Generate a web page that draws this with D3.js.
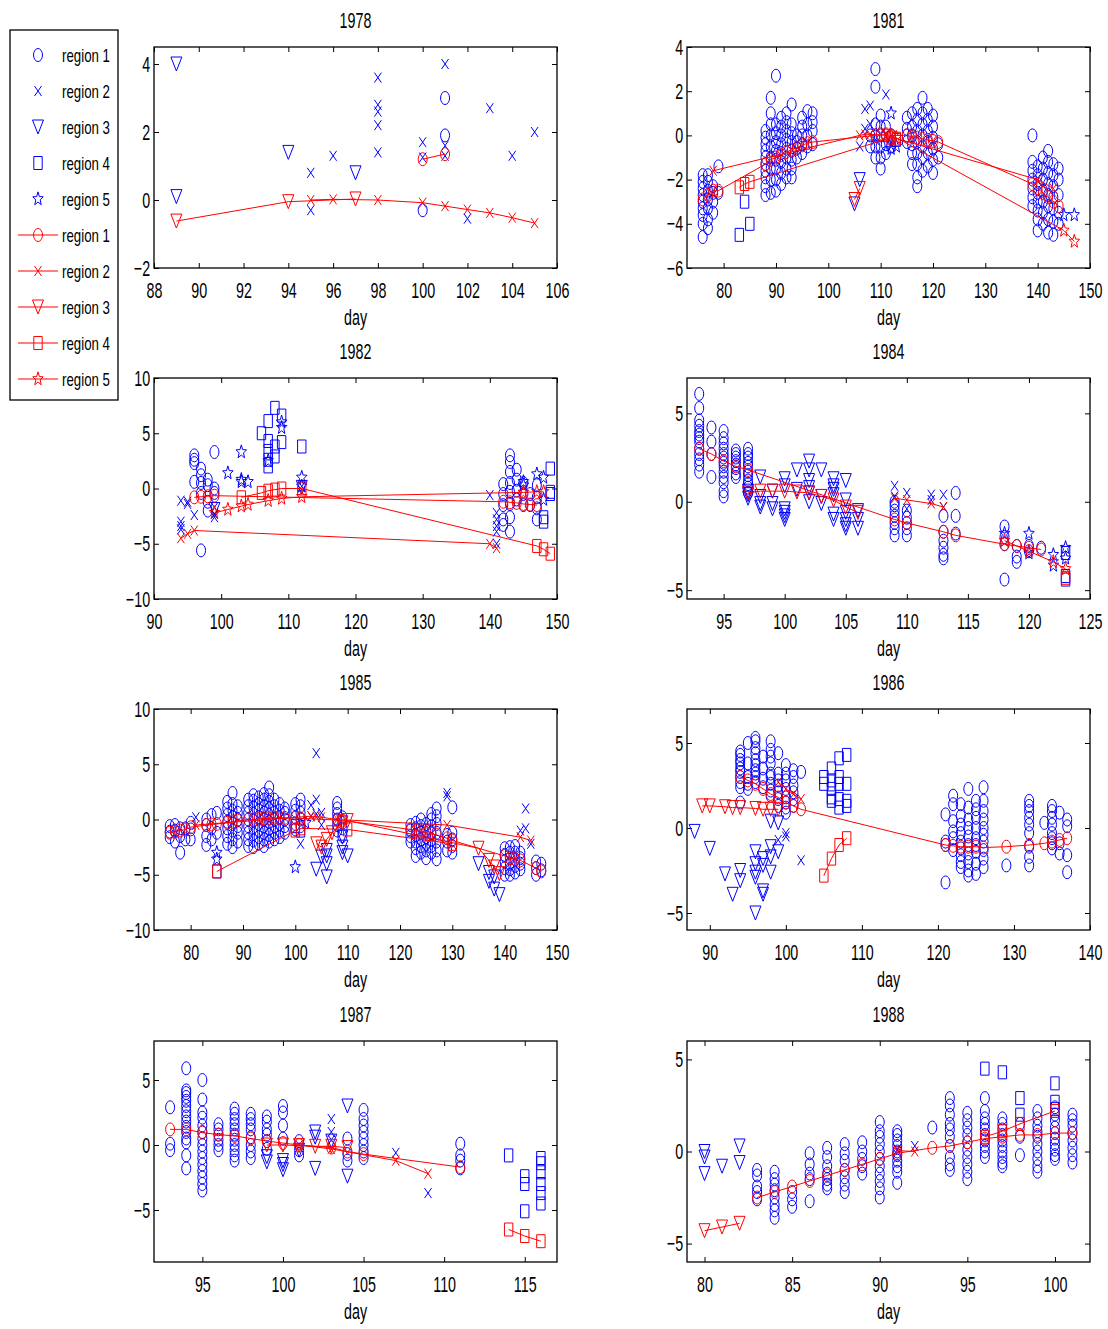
<!DOCTYPE html>
<html lang="en">
<head>
<meta charset="UTF-8">
<title>Regions by day</title>
<style>
  body { margin: 0; background: #fff; }
  svg text { font-family: "Liberation Sans", Arial, sans-serif; fill: #000; }
</style>
</head>
<body>
<svg id="chart" width="1108" height="1329"></svg>
<script src="https://cdn.jsdelivr.net/npm/d3@7"></script>
<script>
// ---- data ----
const years = ["1978", "1981", "1982", "1984", "1985", "1986", "1987", "1988"];
const regions = ["region 1", "region 2", "region 3", "region 4", "region 5"];
const xDomains = [[88, 106], [73, 150], [90, 150], [92, 125], [73, 150], [87, 140], [92, 117], [79, 102]];
const yDomains = [[-2, 4.5], [-6, 4], [-10, 10], [-5.5, 7], [-10, 10], [-6, 7], [-9, 8], [-6, 6]];
const xTicks = [
  [88, 90, 92, 94, 96, 98, 100, 102, 104, 106],
  [80, 90, 100, 110, 120, 130, 140, 150],
  [90, 100, 110, 120, 130, 140, 150],
  [95, 100, 105, 110, 115, 120, 125],
  [80, 90, 100, 110, 120, 130, 140, 150],
  [90, 100, 110, 120, 130, 140],
  [95, 100, 105, 110, 115],
  [80, 85, 90, 95, 100]
];
const yTicks = [[-2, 0, 2, 4], [-6, -4, -2, 0, 2, 4], [-10, -5, 0, 5, 10], [-5, 0, 5],
  [-10, -5, 0, 5, 10], [-5, 0, 5], [-5, 0, 5], [-5, 0, 5]];

// observations: one list per region, each entry [day, value, value, ...]
const obs1978 = [
  [[100, -0.3], [101, 3.0, 1.9]],
  [[95, 0.8, -0.3], [96, 1.3], [98, 3.6, 2.8, 2.6, 2.2, 1.4], [100, 1.7, 1.25], [101, 4.0, 1.6, 1.3], [102, -0.55], [103, 2.7], [104, 1.3], [105, 2.0]],
  [[89, 4.0, 0.1], [94, 1.4], [97, 0.8]],
  [], []
];
const obs1981 = [
  [[76, -4.6, -4.0, -3.6, -3.3, -3.0, -2.7, -2.4, -2.1, -1.8], [77, -4.2, -3.8, -3.3, -2.9, -2.5, -2.1, -1.8], [78, -3.5, -3.0, -2.6, -2.3], [79, -2.6, -1.4],
   [88, -2.7, -2.3, -1.9, -1.6, -1.3, -1.0, -0.7, -0.4, -0.1, 0.2], [89, -2.6, -2.0, -1.5, -1.0, -0.5, 0.0, 0.5, 1.0, 1.7],
   [90, -2.5, -2.0, -1.5, -1.1, -0.7, -0.3, 0.1, 0.5, 2.7], [91, -2.2, -1.7, -1.2, -0.8, -0.4, 0.0, 0.4, 0.8],
   [92, -1.9, -1.5, -1.0, -0.6, -0.2, 0.2, 0.6, 1.0], [93, -1.9, -1.5, -1.1, -0.7, -0.3, 0.1, 0.5, 1.4],
   [94, -1.0, -0.6, -0.3, 0.0], [95, -0.8, -0.4, 0.0, 0.4, 0.8], [96, -0.5, 0.0, 0.5, 1.1], [97, -0.4, 0.2, 0.6, 1.0],
   [108, -0.5, 0.0], [109, -1.0, -0.5, 0.0, 0.5, 2.2, 3.0], [110, -1.5, -1.0, -0.5, 0.0, 0.4, 0.9], [111, -0.8, -0.4, 0.0, 0.4], [112, -0.5, 0.0],
   [115, -0.3, 0.0, 0.3, 0.8], [116, -1.3, -0.8, -0.4, 0.0, 0.4, 1.0], [117, -2.3, -1.9, -1.3, -0.8, -0.3, 0.2, 0.7, 1.2],
   [118, -1.6, -1.0, -0.5, 0.0, 0.5, 1.0, 1.7], [119, -1.4, -0.8, -0.3, 0.2, 0.7, 1.2], [120, -1.7, -1.1, -0.6, -0.1, 0.4, 0.9], [121, -1.0, -0.4],
   [139, -3.2, -2.8, -2.4, -2.0, -1.6, -1.2, 0.0], [140, -4.3, -3.8, -3.4, -3.0, -2.6, -2.2, -1.8, -1.4],
   [141, -4.0, -3.5, -3.0, -2.5, -2.0, -1.5, -1.0], [142, -4.4, -3.8, -3.2, -2.7, -2.2, -1.7, -1.2, -0.7],
   [143, -4.5, -3.9, -3.3, -2.8, -2.3, -1.8, -1.3], [144, -4.0, -3.5, -2.7, -2.0, -1.5]],
  [[106, -0.5], [107, 1.2, 0.3], [108, 1.35, 0.5], [109, -0.2], [111, 1.85], [112, -0.5]],
  [[105, -3.1], [106, -2.0]],
  [[83, -4.5], [84, -3.0], [85, -4.0], [113, -0.2]],
  [[112, 1.0, -0.6], [113, -0.5], [145, -3.6], [147, -3.6]]
];
const obs1982 = [
  [[96, 3.0, 2.6, 2.3, 0.6], [97, 1.8, 1.2, 0.5, -0.4, -5.6], [98, 0.8, 0.3, -1.2, -2.0], [99, 3.3, 0.0, -0.4],
   [142, 0.4, -0.5, -1.5, -2.8, -3.3], [143, 3.0, 2.4, 1.5, 0.5, -0.3, -1.4, -2.6, -3.9], [144, 1.7, 0.8, -0.2, -1.0],
   [145, 0.5, -0.5, -1.5], [146, -0.5, -1.5], [147, 0.3, -0.8, -1.8, -2.8]],
  [[94, -1.1, -3.0, -3.4, -3.7], [95, -1.2, -1.4], [96, -2.4], [99, -1.7, -2.3, -2.6], [112, 0.2], [140, -0.6], [141, -2.2, -2.8, -3.4, -3.9, -5.0]],
  [[99, -1.9], [112, 0.1]],
  [[106, 5.0], [107, 6.1, 4.3, 3.4, 2.6, 2.0], [108, 7.3, 3.8, 2.9], [109, 6.6, 4.2], [112, 3.8], [148, -2.6, -3.0], [149, 1.8, -0.3, -0.5]],
  [[101, 1.4], [103, 3.3, 0.8, 0.6], [104, 0.6], [107, 2.5], [109, 6.0, 5.5], [112, 1.0, 0.2], [145, 0.6, 0.3], [147, 1.3], [148, 1.0, -1.0]]
];
const obs1984 = [
  [[93, 6.1, 5.3, 4.6, 4.3, 4.0, 3.8, 3.6, 3.4, 3.0, 2.7, 2.4, 2.1, 1.7], [94, 4.2, 3.4, 2.7, 1.4],
   [95, 4.0, 3.6, 3.3, 3.0, 2.7, 2.5, 2.2, 2.0, 1.7, 1.4, 1.1, 0.6, 0.3], [96, 2.9, 2.7, 2.5, 2.3, 2.1, 1.9, 1.6, 1.4],
   [97, 3.0, 2.7, 2.5, 2.2, 2.0, 1.7, 1.5, 1.2, 1.0, 0.8, 0.5], [109, 0.0, -0.2, -0.5, -0.8, -1.2, -1.5, -1.9],
   [110, -0.5, -0.9, -1.2, -1.5, -1.9], [113, -0.8, -1.7, -2.2, -2.6, -3.0, -3.2], [114, 0.5, -0.8, -1.8],
   [118, -1.4, -2.0, -2.4, -4.4], [119, -2.5, -3.1, -3.4], [120, -2.5, -2.8], [121, -2.6]],
  [[109, 0.9, 0.3], [110, 0.5, -0.4], [112, 0.4, 0.1], [113, 0.4, -0.3]],
  [[97, 0.6, 0.4, 0.2], [98, 1.4, 0.3, -0.1, -0.3], [99, 0.6, -0.1, -0.4], [100, 1.3, 0.9, -0.4, -0.6, -0.8, -1.0], [101, 1.8, 0.7],
   [102, 2.3, 1.8, 1.2, 0.8, 0.5, 0.0], [103, 1.8, 0.3, -0.1], [104, 1.3, 0.9, 0.7, 0.4, -0.7, -1.0], [105, 1.2, 0.1, -0.6, -1.0, -1.3, -1.5], [106, -0.5, -1.0, -1.5]],
  [[123, -2.9, -4.2, -4.4]],
  [[118, -1.8], [120, -1.8, -2.9], [122, -3.0, -3.6], [123, -2.6, -3.2]]
];
const obs1985 = [
  [[76, -1.6, -1.1, -0.6], [77, -2.0, -1.0, -0.5], [78, -3.0, -1.5, -0.8], [79, -1.8, -0.8], [80, -1.8, -0.9, -0.3],
   [83, -2.3, -1.5, -0.5, 0.0], [84, -1.8, -0.8, 0.4], [85, -1.2, 0.6],
   [87, -2.2, -1.5, -0.8, -0.2, 0.4, 1.0, 1.6], [88, -2.5, -1.8, -1.0, -0.4, 0.2, 0.8, 1.4, 2.4], [89, -2.0, -1.2, -0.6, 0.0, 0.6, 1.2],
   [91, -2.4, -1.8, -1.2, -0.6, 0.0, 0.6, 1.2, 1.8], [92, -2.5, -1.9, -1.3, -0.7, -0.1, 0.5, 1.1, 1.7, 2.2],
   [93, -2.2, -1.6, -1.0, -0.4, 0.2, 0.8, 1.4, 2.0], [94, -2.4, -1.8, -1.2, -0.6, 0.0, 0.6, 1.2, 1.8, 2.3],
   [95, -2.0, -1.4, -0.8, -0.2, 0.4, 1.0, 1.6, 2.2, 2.9], [96, -1.8, -1.2, -0.6, 0.0, 0.6, 1.2, 1.8],
   [97, -1.6, -1.0, -0.4, 0.2, 0.8, 1.4], [98, -1.2, -0.6, 0.0, 0.6, 1.0],
   [100, -0.9, -0.4, 0.2, 0.8, 1.4], [101, -0.6, 0.0, 0.6, 1.2, 1.8], [108, -1.0, -0.5, 0.0, 0.5, 1.0, 1.5], [109, -1.5, -0.8, -0.3, 0.2],
   [122, -2.0, -1.5, -1.0, -0.5], [123, -3.3, -2.6, -2.0, -1.4, -0.8, -0.3], [124, -3.0, -2.4, -1.8, -1.2, -0.6, 0.0],
   [125, -3.5, -2.8, -2.2, -1.6, -1.0, -0.4], [126, -3.0, -2.4, -1.8, -1.2, -0.6, 0.0, 0.5], [127, -3.6, -2.8, -2.0, -1.2, -0.4, 0.3, 1.0],
   [129, -2.8, -2.0, -1.4], [130, -3.0, -2.4, -1.8, -1.2, 1.1],
   [140, -5.0, -4.4, -3.8, -3.2, -2.6], [141, -5.0, -4.5, -4.0, -3.5, -3.0, -2.5], [142, -4.8, -4.2, -3.6, -3.0, -2.4], [143, -4.5, -4.0, -3.5, -3.0],
   [146, -5.0, -4.4, -3.8], [147, -4.6, -4.0]],
  [[81, 0.2], [101, -2.2], [103, 1.3, 0.3], [104, 6.0, 1.8, 0.5], [105, 0.6, -0.5], [129, 2.4, 2.1], [143, -1.0], [144, 1.0, -0.8], [145, -2.2]],
  [[104, -4.5], [105, -3.4], [106, -5.2, -4.0, -3.3, -2.8], [109, -1.6, -2.5, -3.0], [110, -3.3], [135, -4.0], [137, -4.8, -5.6], [138, -6.3, -5.2], [139, -6.8]],
  [[85, -4.7], [100, -0.6], [101, -1.0]],
  [[85, -3.0, -3.6], [100, -4.3], [102, -0.3]]
];
const obs1986 = [
  [[94, 4.5, 4.3, 4.0, 3.8, 3.5, 3.3, 3.0, 2.7, 2.4, 1.5], [95, 5.0, 3.8, 3.0, 2.6, 2.3],
   [96, 5.3, 5.1, 4.7, 4.4, 4.0, 3.7, 3.4, 3.2, 3.0, 2.7], [97, 4.2, 3.5, 2.9, 2.4],
   [98, 5.1, 4.6, 4.2, 3.8, 3.2, 3.0, 2.6, 2.2, 1.9], [99, 4.4, 3.2, 2.8, 2.5, 2.1, 1.7, 1.3],
   [100, 3.7, 3.2, 2.8, 2.3, 1.8, 1.5, 1.2, 0.9], [101, 3.4, 3.0, 2.5, 2.1, 1.7, 1.3], [102, 3.3],
   [121, 0.8, -0.8, -1.0, -3.2], [122, 1.9, 1.4, 0.4, -0.2, -0.6, -1.3], [123, 1.4, 0.7, 0.2, -0.3, -0.8, -1.2, -1.6, -2.0, -2.3],
   [124, 2.3, 1.2, 0.5, 0.0, -0.5, -1.0, -1.5, -2.0, -2.5, -2.8], [125, 1.6, 1.1, 0.6, 0.0, -0.6, -1.0, -1.4, -2.1, -2.7],
   [126, 2.4, 1.6, 1.0, 0.5, 0.0, -0.4, -0.8, -1.3, -1.8, -2.3], [129, -2.2],
   [132, 1.6, 1.3, 1.0, 0.6, 0.2, -0.3, -1.1, -1.7, -2.2], [134, 0.3], [135, 1.3, 1.0, 0.6, 0.2, -0.3, -0.6, -0.9, -1.2],
   [136, 0.9, -0.9, -1.5], [137, 0.5, 0.1, -1.6, -2.6]],
  [[99, -0.7], [100, -0.3, -0.5], [102, -1.9]],
  [[88, -0.2], [90, -1.2], [92, -2.7], [93, -3.9], [94, -2.5, -3.1], [96, -1.4, -2.1, -2.6, -2.9, -5.0], [97, -1.8, -2.2, -3.7, -3.9],
   [98, -1.1, -1.7, -2.6, 0.4], [99, -1.4, 0.3]],
  [[105, 3.0, 2.6], [106, 3.5, 2.8, 2.3, 1.8, 1.6], [107, 4.1, 3.0, 2.6, 1.7, 1.2], [108, 4.3, 2.6, 1.6, 1.3]],
  []
];
const obs1987 = [
  [[93, 2.9, 0.1, -0.4], [94, 5.9, 4.2, 4.0, 3.7, 3.4, 3.0, 2.6, 2.2, 1.8, 1.4, 1.0, 0.5, 0.2, -0.8, -1.8],
   [95, 5.0, 3.5, 2.5, 2.1, 1.5, 1.0, 0.5, 0.0, -0.5, -1.0, -1.5, -2.0, -2.5, -3.0, -3.5], [96, 1.6, 1.2, 0.8, 0.4, 0.0, -0.4],
   [97, 2.8, 2.4, 2.0, 1.6, 1.2, 0.8, 0.4, 0.0, -0.4, -0.8, -1.2], [98, 2.4, 2.0, 1.6, 1.2, 0.6, 0.0, -0.5, -1.0],
   [99, 2.2, 1.8, 1.2, 0.8, 0.3, -0.3], [100, 3.0, 2.5, 1.5, 0.5], [101, 0.3, -0.4, -0.8], [104, 0.5, -0.7, -1.2],
   [105, 2.7, 2.0, 1.5, 1.0, 0.5, 0.0, -0.5, -1.0], [111, 0.1, -0.8, -1.2, -1.8]],
  [[103, 2.0, 1.0, 0.4], [107, -0.6], [109, -3.7]],
  [[99, -0.9, -1.3], [100, -1.2, -1.5, -1.9], [101, -0.4], [102, 1.0, 0.6, -1.8], [103, 0.3], [104, 3.0, -2.4]],
  [[114, -0.8], [115, -2.4, -3.0, -5.1], [116, -1.0, -1.4, -2.1, -3.0, -3.7, -4.5]],
  []
];
const obs1988 = [
  [[83, -1.0, -1.3, -1.9, -2.2, -2.6], [84, -1.1, -1.5, -1.8, -2.1, -2.5, -2.9, -3.2, -3.6], [85, -2.2, -2.6, -3.0],
   [86, -0.1, -0.7, -1.2, -1.5, -2.7], [87, 0.2, -0.3, -0.8, -1.2, -1.5, -1.8, -2.0], [88, 0.4, -0.1, -0.5, -1.0, -1.4, -1.8, -2.2],
   [89, 0.5, 0.0, -0.4, -0.8, -1.2], [90, 1.6, 1.1, 0.8, 0.4, 0.0, -0.4, -0.8, -1.2, -1.6, -2.0, -2.5],
   [91, 1.1, 0.9, 0.6, 0.3, 0.0, -0.2, -0.5, -0.8, -1.1, -1.7], [93, 1.3],
   [94, 2.9, 2.5, 2.0, 1.5, 1.2, 0.8, 0.3, -0.3, -0.7, -1.0], [95, 2.1, 1.7, 1.3, 0.9, 0.5, 0.1, -0.3, -0.7, -1.1, -1.5],
   [96, 2.9, 2.2, 1.8, 1.5, 1.2, 0.9, 0.6, 0.3, 0.0, -0.3], [97, 1.8, 1.5, 1.2, 0.9, 0.6, 0.3, 0.0, -0.3, -0.6, -0.8],
   [98, 1.5, 0.8, -0.2], [99, 2.2, 1.8, 1.4, 1.1, 0.8, 0.4, 0.0, -0.4, -0.8, -1.1],
   [100, 2.4, 2.0, 1.7, 1.3, 1.0, 0.7, 0.4, 0.1, -0.2, -0.4], [101, 2.0, 1.7, 1.4, 1.0, 0.6, 0.2, -0.2, -0.6]],
  [[91, 0.1], [92, 0.3]],
  [[80, 0.0, -0.3, -1.2], [81, -0.8], [82, 0.3, -0.6]],
  [[96, 4.5], [97, 4.3], [98, 2.9, 2.0], [100, 3.7, 2.7, 2.3]],
  []
];

// fitted curves: [region index, [[day, value], ...]]
const fit1978 = [
  [0, [[100, 1.2], [101, 1.35]]],
  [1, [[95, 0.0], [96, 0.02], [98, 0.0], [100, -0.08], [101, -0.18], [102, -0.28], [103, -0.38], [104, -0.52], [105, -0.68]]],
  [2, [[89, -0.62], [94, -0.05], [97, 0.03]]]
];
const fit1981 = [
  [1, [[78, -1.6], [106, 0.0], [107, 0.05], [108, 0.05], [111, 0.0], [140, -2.0], [143, -2.4]]],
  [0, [[76, -2.9], [77, -2.7], [78, -2.5], [79, -2.5], [88, -1.3], [89, -1.1], [90, -1.0], [91, -0.9], [92, -0.75], [93, -0.65],
       [94, -0.55], [95, -0.45], [96, -0.35], [97, -0.3], [109, 0.0], [110, 0.05], [111, 0.05], [112, 0.0], [115, 0.0],
       [116, -0.05], [117, -0.1], [118, -0.15], [119, -0.2], [120, -0.25], [121, -0.3],
       [139, -2.2], [140, -2.4], [141, -2.6], [142, -2.8], [143, -3.0], [144, -3.2]]],
  [3, [[83, -2.35], [84, -2.2], [85, -2.1], [112, -0.1], [113, -0.15]]],
  [4, [[112, 0.0], [113, -0.1], [145, -4.3], [147, -4.8]]],
  [2, [[105, -2.9], [106, -2.4]]]
];
const fit1982 = [
  [0, [[96, -0.8], [97, -0.75], [98, -0.7], [99, -0.65], [142, -1.2], [143, -1.25], [144, -1.3], [145, -1.4], [146, -1.45], [147, -1.5]]],
  [4, [[99, -2.2], [101, -1.9], [103, -1.6], [104, -1.45], [107, -1.1], [109, -0.9], [112, -0.75], [145, -0.35], [147, -0.3], [148, -0.3]]],
  [3, [[103, -0.8], [106, -0.4], [107, -0.2], [108, -0.1], [109, 0.0], [112, 0.0], [147, -5.2], [148, -5.5], [149, -5.9]]],
  [1, [[94, -4.5], [95, -4.1], [96, -3.8], [140, -5.0], [141, -5.4]]]
];
const fit1984 = [
  [0, [[93, 3.0], [94, 2.7], [95, 2.3], [96, 2.0], [97, 1.8], [109, -1.0], [110, -1.2], [113, -1.7], [114, -1.9],
       [118, -2.4], [119, -2.5], [120, -2.6], [121, -2.7]]],
  [2, [[97, 0.5], [98, 0.6], [99, 0.6], [100, 0.6], [101, 0.55], [102, 0.5], [103, 0.3], [104, 0.1], [105, -0.3], [106, -0.6]]],
  [1, [[109, 0.2], [110, 0.1], [112, -0.1], [113, -0.3]]],
  [4, [[118, -2.2], [120, -2.8], [122, -3.4], [123, -3.8]]],
  [3, [[123, -4.3]]]
];
const fit1985 = [
  [0, [[76, -1.2], [77, -1.1], [78, -1.0], [79, -0.9], [80, -0.7], [83, -0.5], [84, -0.45], [85, -0.4], [87, -0.3], [88, -0.2],
       [89, -0.1], [91, 0.0], [92, 0.0], [93, 0.05], [94, 0.1], [95, 0.1], [96, 0.15], [97, 0.15], [98, 0.15], [100, 0.15],
       [101, 0.1], [108, -0.05], [109, -0.1], [122, -0.9], [123, -1.0], [124, -1.1], [125, -1.2], [126, -1.3], [127, -1.4],
       [129, -1.7], [130, -1.9], [140, -3.3], [141, -3.5], [142, -3.6], [143, -3.7], [146, -4.4], [147, -4.7]]],
  [3, [[85, -4.7], [100, -1.0], [101, -0.8], [110, -0.9], [130, -2.2]]],
  [1, [[81, -0.5], [103, 0.3], [104, 0.25], [105, 0.2], [108, 0.0], [129, -0.5], [143, -1.6], [145, -1.9]]],
  [2, [[104, -2.2], [105, -2.5], [106, -1.8], [107, -1.2], [109, -0.3], [110, -0.1], [135, -2.6], [137, -3.7], [138, -4.3], [139, -4.9]]]
];
const fit1986 = [
  [2, [[89, 1.3], [90, 1.3], [92, 1.25], [93, 1.2], [94, 1.2], [96, 1.15], [97, 1.1], [98, 1.1], [99, 1.1]]],
  [0, [[94, 3.0], [95, 2.8], [96, 2.6], [97, 2.3], [98, 2.0], [99, 1.8], [100, 1.5], [101, 1.3], [102, 1.1],
       [121, -1.0], [122, -1.05], [123, -1.1], [124, -1.1], [125, -1.1], [126, -1.15], [129, -1.1], [132, -1.0],
       [134, -0.9], [135, -0.8], [136, -0.7], [137, -0.6]]],
  [1, [[99, 2.7], [100, 2.3], [101, 2.0], [102, 1.7]]],
  [3, [[105, -2.8], [106, -1.8], [107, -1.0], [108, -0.6]]]
];
const fit1987 = [
  [0, [[93, 1.2], [94, 1.2], [95, 0.95], [96, 0.8], [97, 0.7], [98, 0.5], [99, 0.3], [100, 0.15], [101, 0.0], [103, -0.2],
       [104, -0.5], [105, -0.7], [111, -1.7]]],
  [2, [[99, 0.0], [100, 0.0], [101, -0.05], [102, -0.1], [103, -0.1], [104, -0.2]]],
  [1, [[101, 0.0], [103, -0.3], [107, -1.2], [109, -2.2]]],
  [3, [[114, -6.5], [115, -7.0], [116, -7.4]]]
];
const fit1988 = [
  [0, [[83, -2.5], [84, -2.2], [85, -1.9], [86, -1.6], [87, -1.3], [88, -1.0], [89, -0.7], [90, -0.4], [91, -0.1], [93, 0.2],
       [94, 0.3], [95, 0.5], [96, 0.7], [97, 0.8], [98, 0.9], [99, 0.9], [100, 1.0], [101, 1.0]]],
  [1, [[91, 0.05], [92, 0.0]]],
  [2, [[80, -4.3], [81, -4.1], [82, -3.9]]],
  [3, [[96, 0.8], [97, 1.1], [98, 1.5], [100, 2.2]]]
];

const allObs = [obs1978, obs1981, obs1982, obs1984, obs1985, obs1986, obs1987, obs1988];
const allFit = [fit1978, fit1981, fit1982, fit1984, fit1985, fit1986, fit1987, fit1988];

// ---- drawing ----
const BLUE = "#0000ff", RED = "#ff0000";
const svg = d3.select("#chart");
const W = 403, H = 221;
const colX = [154, 687];
const rowY = [47, 378, 709, 1041];
const fmt = d3.format("d");

// star path (pentagram), stretched vertically like the other markers
const starPts = d3.range(10).map(function(k) {
  const a = -Math.PI / 2 + k * Math.PI / 5;
  const r = k % 2 === 0 ? 5.5 : 2.3;
  return [r * Math.cos(a), r * Math.sin(a) * 1.3];
});
const starPath = "M" + starPts.map(function(p) { return p[0].toFixed(2) + "," + p[1].toFixed(2); }).join("L") + "Z";

function marker(g, type) {
  if (type === 0) g.append("ellipse").attr("rx", 4.5).attr("ry", 6.5);
  else if (type === 1) g.append("path").attr("d", "M-3.5,-5L3.5,5M-3.5,5L3.5,-5");
  else if (type === 2) g.append("path").attr("d", "M-5.5,-7L5.5,-7L0,7Z");
  else if (type === 3) g.append("path").attr("d", "M-4.2,-6.5H4.2V6.5H-4.2Z");
  else g.append("path").attr("d", starPath);
}

function label(g, x, y, txt, anchor, size, sx) {
  g.append("text")
    .attr("transform", "translate(" + x + "," + y + ") scale(" + sx + ",1)")
    .attr("text-anchor", anchor)
    .style("font-size", size + "px")
    .text(txt);
}

years.forEach(function(yr, i) {
  const g = svg.append("g")
    .attr("transform", "translate(" + colX[i % 2] + "," + rowY[Math.floor(i / 2)] + ")");
  const x = d3.scaleLinear().domain(xDomains[i]).range([0, W]);
  const y = d3.scaleLinear().domain(yDomains[i]).range([H, 0]);

  g.append("rect").attr("width", W).attr("height", H).attr("fill", "#fff");

  // axes, MATLAB style: inward ticks on all four sides
  function styleAxis(a) {
    a.attr("font-size", null).attr("font-family", null);
    a.select(".domain").remove();
    a.selectAll(".tick line").attr("stroke", "#000");
  }
  g.append("g").attr("transform", "translate(0," + H + ")")
    .call(d3.axisBottom(x).tickValues(xTicks[i]).tickFormat(fmt).tickSize(-5).tickPadding(14))
    .call(styleAxis)
    .call(function(a) { a.selectAll("text").attr("transform", "scale(0.65,1)").style("font-size", "22px"); });
  g.append("g")
    .call(d3.axisLeft(y).tickValues(yTicks[i]).tickFormat(fmt).tickSize(-5).tickPadding(6))
    .call(styleAxis)
    .call(function(a) { a.selectAll("text").attr("transform", "scale(0.65,1)").style("font-size", "22px"); });
  g.append("g").call(d3.axisTop(x).tickValues(xTicks[i]).tickSize(-5).tickFormat("")).call(styleAxis);
  g.append("g").attr("transform", "translate(" + W + ",0)")
    .call(d3.axisRight(y).tickValues(yTicks[i]).tickSize(-5).tickFormat("")).call(styleAxis);

  // blue observations
  const obsG = g.append("g").attr("fill", "none").attr("stroke", BLUE).attr("stroke-width", 1);
  allObs[i].forEach(function(list, r) {
    list.forEach(function(row) {
      row.slice(1).forEach(function(v) {
        marker(obsG.append("g").attr("transform", "translate(" + x(row[0]) + "," + y(v) + ")"), r);
      });
    });
  });

  // red fitted lines with markers
  const line = d3.line().x(function(d) { return x(d[0]); }).y(function(d) { return y(d[1]); });
  const fitG = g.append("g").attr("fill", "none").attr("stroke", RED).attr("stroke-width", 1);
  allFit[i].forEach(function(f) {
    fitG.append("path").attr("d", line(f[1]));
    f[1].forEach(function(d) {
      marker(fitG.append("g").attr("transform", "translate(" + x(d[0]) + "," + y(d[1]) + ")"), f[0]);
    });
  });

  g.append("rect").attr("width", W).attr("height", H)
    .attr("fill", "none").attr("stroke", "#000").attr("stroke-width", 1.3);

  label(g, W / 2, -19, yr, "middle", 22, 0.65);
  label(g, W / 2, H + 57, "day", "middle", 22, 0.65);
});

// legend
const leg = svg.append("g").attr("transform", "translate(10,30)");
leg.append("rect").attr("width", 108).attr("height", 370)
  .attr("fill", "#fff").attr("stroke", "#000").attr("stroke-width", 1.3);
d3.range(10).forEach(function(k) {
  const cy = 25 + k * 36;
  const r = k % 5;
  const red = k >= 5;
  const eg = leg.append("g").attr("fill", "none").attr("stroke", red ? RED : BLUE).attr("stroke-width", 1);
  if (red) eg.append("path").attr("d", "M8," + cy + "H48");
  marker(eg.append("g").attr("transform", "translate(28," + cy + ")"), r);
  label(leg, 52, cy + 7, regions[r], "start", 19, 0.7);
});
</script>
</body>
</html>
